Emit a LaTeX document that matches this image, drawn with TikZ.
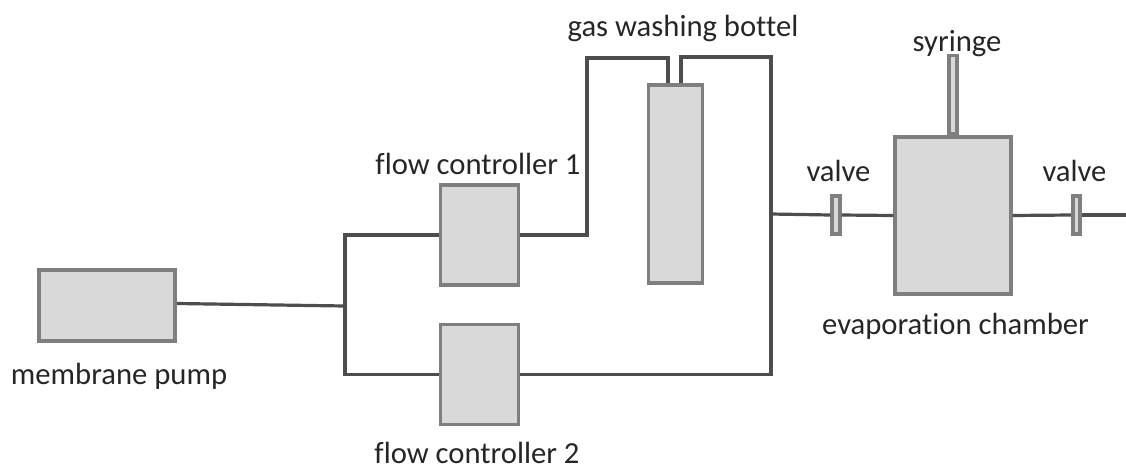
\documentclass[tikz,border=0pt]{standalone}
\usepackage{fontspec}
\setmainfont[Ligatures=NoCommon]{Carlito}
\usepackage{xcolor}
\usepackage{tikz}
\usetikzlibrary{calc}
\definecolor{partfill}{HTML}{D9D9D9}
\definecolor{partline}{HTML}{7F7F7F}
\definecolor{pipe}{HTML}{4D4D4D}
\tikzset{part/.style={draw=partline, fill=partfill, line width=2.8pt, inner sep=0},
 tube/.style={draw=pipe, line width=2.4pt},
 caption/.style={font=\fontsize{23}{27}\selectfont, text=black!85, inner sep=0}}

\begin{document}
\begin{tikzpicture} [x=.75pt, y=-.75pt]
\useasboundingbox (0,0) rectangle (1126,469);
\node[part, minimum width=102.5pt, minimum height=53pt] (pump) at (107,305.5) {};
\node[part, minimum width=58.5pt, minimum height=75pt] (fcone) at (479.5,235) {};
\node[part, minimum width=58.5pt, minimum height=75pt] (fctwo) at (479.5,374.5) {};
\node[part, minimum width=40.5pt, minimum height=149pt] (bottle) at (675.5,184) {};
\node[part, minimum width=86.5pt, minimum height=117.5pt] (chamber) at (953,215.5) {};
\node[part, minimum width=5.5pt, minimum height=59pt, anchor=south] (syringe) at (953,136) {};
\node[part, minimum width=5.5pt, minimum height=29pt] (valveone) at (836,215) {};
\node[part, minimum width=5.5pt, minimum height=29pt] (valvetwo) at (1076.5,215) {};

% free ends of the pipes
\coordinate (split) at (345,306);
\coordinate (inlet) at (668,58);
\coordinate (outlet) at (681,57);
\coordinate (right) at (771,214);
\coordinate (out) at (1126,215);

\draw[tube] ($(pump.east)+(0,-2)$) -- (split);
\draw[tube] (fcone.west) -| (split) |- (fctwo.west);
\draw[tube] (fcone.east) -| (587,58) -- (inlet) -- (inlet |- bottle.north);
\draw[tube] (outlet |- bottle.north) -- (outlet) -| (fctwo.east -| right) -- (fctwo.east);
\draw[tube] (right) -- (valveone.west);
\draw[tube] (valveone.east) -- (chamber.west);
\draw[tube] (chamber.east) -- (valvetwo.west);
\draw[tube] (valvetwo.east) -- (out);

\node[caption] (pumplabel) at (119,376) {membrane pump};
\node[caption] (fconelabel) at (478,164) {flow controller 1};
\node[caption] (fctwolabel) at (477,453) {flow controller 2};
\node[caption] (bottlelabel) at (683,28) {gas washing bottel};
\node[caption] (syringelabel) at (957,44) {syringe};
\node[caption] (valveonelabel) at (838.5,171) {valve};
\node[caption] (valvetwolabel) at (1074.5,171) {valve};
\node[caption] (chamberlabel) at (955.5,326) {evaporation chamber};
\end{tikzpicture}
\end{document}
